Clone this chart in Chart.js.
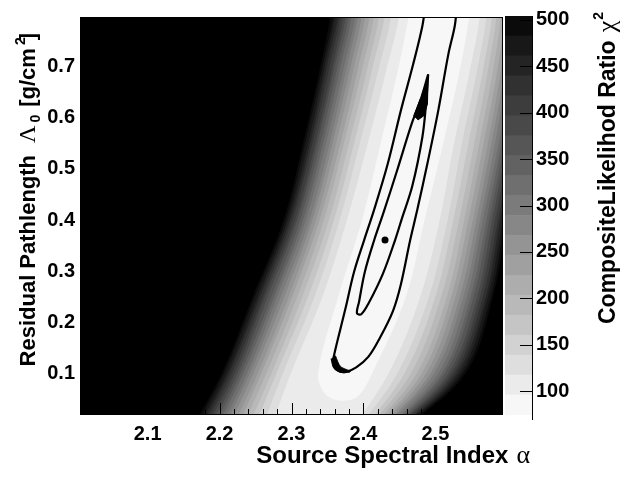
<!DOCTYPE html>
<html>
<head>
<meta charset="utf-8">
<script src="https://cdn.jsdelivr.net/npm/chart.js@4.4.0/dist/chart.umd.min.js"></script>
<style>
  html, body { margin: 0; padding: 0; background: #fff; }
  #wrap { position: relative; width: 639px; height: 477px; }
  #wrap canvas { position: absolute; left: 0; top: 0; }
</style>
</head>
<body>
<div id="wrap">
  <canvas id="plot" width="639" height="477"></canvas>
  <canvas id="palette" width="639" height="477"></canvas>
</div>
<script>
// ==================== Data ====================
// colour scale: lower end and upper edge of each of the 20 chi2 bands
const zMin = 74.5;
const levels = [96.0, 117.5, 138.9, 160.4, 181.9, 203.4, 224.8, 246.3, 267.8, 289.3,
                310.7, 332.2, 353.7, 375.2, 396.6, 418.1, 439.6, 461.1, 482.5, 504.0];
const bandGray = [247, 235, 222, 210, 197, 185, 173, 160, 148, 135,
                  123, 111, 98, 86, 73, 61, 49, 36, 24, 11];

// Lambda0 rows where the band edges were read
const lambdaRows = [-0.02, 0.1, 0.25, 0.4, 0.55, 0.7, 0.82];

// alpha of the left / right edge of levels 2..20 on each row
const leftEdges = [
  [2.268, 2.299, 2.343, 2.377, 2.406, 2.433, 2.451],
  [2.255, 2.288, 2.332, 2.367, 2.395, 2.422, 2.440],
  [2.244, 2.279, 2.323, 2.359, 2.387, 2.413, 2.431],
  [2.235, 2.272, 2.315, 2.352, 2.380, 2.406, 2.423],
  [2.227, 2.265, 2.308, 2.345, 2.373, 2.399, 2.416],
  [2.220, 2.258, 2.301, 2.339, 2.368, 2.393, 2.410],
  [2.213, 2.253, 2.296, 2.334, 2.362, 2.387, 2.404],
  [2.207, 2.247, 2.290, 2.329, 2.357, 2.382, 2.399],
  [2.201, 2.242, 2.285, 2.325, 2.353, 2.377, 2.394],
  [2.196, 2.238, 2.280, 2.320, 2.348, 2.373, 2.390],
  [2.191, 2.233, 2.276, 2.316, 2.344, 2.368, 2.385],
  [2.186, 2.229, 2.272, 2.312, 2.340, 2.364, 2.381],
  [2.181, 2.225, 2.267, 2.308, 2.336, 2.360, 2.377],
  [2.176, 2.221, 2.263, 2.305, 2.333, 2.357, 2.373],
  [2.172, 2.217, 2.260, 2.301, 2.329, 2.353, 2.369],
  [2.168, 2.213, 2.256, 2.298, 2.326, 2.349, 2.366],
  [2.164, 2.210, 2.253, 2.295, 2.323, 2.346, 2.362],
  [2.160, 2.206, 2.249, 2.292, 2.319, 2.343, 2.359],
  [2.156, 2.203, 2.246, 2.289, 2.316, 2.340, 2.355]
];
const rightEdges = [
  [2.378, 2.435, 2.479, 2.506, 2.526, 2.549, 2.563],
  [2.386, 2.447, 2.491, 2.517, 2.537, 2.559, 2.572],
  [2.393, 2.457, 2.500, 2.525, 2.546, 2.567, 2.580],
  [2.398, 2.466, 2.508, 2.533, 2.554, 2.574, 2.586],
  [2.403, 2.474, 2.516, 2.540, 2.561, 2.581, 2.592],
  [2.407, 2.481, 2.522, 2.546, 2.567, 2.587, 2.597],
  [2.411, 2.487, 2.528, 2.552, 2.573, 2.592, 2.602],
  [2.415, 2.493, 2.534, 2.557, 2.578, 2.597, 2.607],
  [2.418, 2.498, 2.539, 2.562, 2.583, 2.601, 2.611],
  [2.422, 2.504, 2.544, 2.566, 2.588, 2.606, 2.615],
  [2.425, 2.509, 2.549, 2.571, 2.592, 2.610, 2.619],
  [2.428, 2.513, 2.553, 2.575, 2.596, 2.614, 2.623],
  [2.431, 2.518, 2.558, 2.579, 2.600, 2.618, 2.626],
  [2.433, 2.522, 2.562, 2.583, 2.604, 2.621, 2.629],
  [2.436, 2.526, 2.566, 2.587, 2.608, 2.625, 2.633],
  [2.439, 2.530, 2.570, 2.590, 2.612, 2.628, 2.636],
  [2.441, 2.534, 2.573, 2.594, 2.615, 2.631, 2.639],
  [2.443, 2.538, 2.577, 2.597, 2.618, 2.634, 2.642],
  [2.446, 2.542, 2.580, 2.600, 2.622, 2.637, 2.644]
];

// lightest band (level 1) closes just above the bottom
const coreAlpha  = [2.466, 2.449, 2.424, 2.398, 2.365, 2.337, 2.347, 2.368, 2.392, 2.412, 2.459, 2.485, 2.511, 2.535, 2.550];
const coreLambda = [0.82, 0.70, 0.55, 0.40, 0.25, 0.10, 0.06, 0.047, 0.055, 0.10, 0.25, 0.40, 0.55, 0.70, 0.82];

// black contour lines
const outerAlpha  = [2.486, 2.482, 2.469, 2.452, 2.434, 2.415, 2.401, 2.387, 2.375, 2.359, 2.358, 2.364, 2.375, 2.390,
                     2.407, 2.423, 2.441, 2.452, 2.465, 2.475, 2.489, 2.504, 2.518, 2.527, 2.530];
const outerLambda = [0.82, 0.780, 0.704, 0.614, 0.511, 0.421, 0.361, 0.299, 0.227, 0.135, 0.121, 0.106, 0.103, 0.112,
                     0.133, 0.170, 0.222, 0.274, 0.361, 0.421, 0.511, 0.614, 0.724, 0.780, 0.82];
const innerAlpha  = [2.490, 2.479, 2.467, 2.447, 2.428, 2.415, 2.402, 2.394, 2.391, 2.397, 2.407, 2.427, 2.444, 2.453,
                     2.468, 2.482, 2.487, 2.490];
const innerLambda = [0.685, 0.633, 0.588, 0.498, 0.415, 0.361, 0.299, 0.241, 0.218, 0.216, 0.237, 0.295, 0.361, 0.401,
                     0.467, 0.563, 0.627, 0.685];
// thick spots of the contour lines
const blobAlpha  = [2.490, 2.489, 2.484, 2.476, 2.470, 2.479];
const blobLambda = [0.685, 0.627, 0.604, 0.596, 0.604, 0.637];
const tipAlpha   = [2.355, 2.359, 2.370, 2.382, 2.368, 2.361];
const tipLambda  = [0.129, 0.110, 0.102, 0.104, 0.114, 0.135];

// best fit point
const bestAlpha = [2.430];
const bestLambda = [0.361];

// axes
const xRange = [2.006, 2.594];
const yRange = [0.019, 0.797];
const xTicks = [2.1, 2.2, 2.3, 2.4, 2.5];
const yTicks = [0.1, 0.2, 0.3, 0.4, 0.5, 0.6, 0.7];
const zTicks = [100, 150, 200, 250, 300, 350, 400, 450, 500];

// ==================== Helpers ====================
const sans = '"Liberation Sans", Arial, Helvetica, sans-serif';
const serif = '"Liberation Serif", "Times New Roman", serif';

function gray(g) {
  return 'rgb(' + g + ',' + g + ',' + g + ')';
}

function toPoints(xs, ys) {
  return xs.map((x, i) => ({ x: x, y: ys[i] }));
}

// closed outline of one level: left edge upwards, right edge downwards.
// above the frame the outline goes straight up before it turns, so the
// smoothing does not bend the visible top of the edges
function levelOutline(k) {
  const above = yRange[1] + 0.3;
  const lft = leftEdges[k];
  const rgt = rightEdges[k];
  const last = lambdaRows.length - 1;
  const left = lambdaRows.map((l, i) => ({ x: lft[i], y: l }));
  const right = lambdaRows.map((l, i) => ({ x: rgt[i], y: l })).reverse();
  return left.concat([{ x: lft[last], y: above }, { x: rgt[last], y: above }], right);
}

// text made of several pieces (greek letters, sub/superscripts), right aligned
function drawRich(ctx, parts, x, y, rot) {
  ctx.save();
  ctx.translate(x, y);
  ctx.rotate(rot);
  let w = 0;
  parts.forEach(p => {
    ctx.font = p.font;
    w += ctx.measureText(p.t).width + (p.gap || 0);
  });
  let cx = -w;
  ctx.fillStyle = '#000';
  ctx.textAlign = 'left';
  ctx.textBaseline = 'alphabetic';
  parts.forEach(p => {
    ctx.font = p.font;
    cx += p.gap || 0;
    ctx.fillText(p.t, cx, p.dy || 0);
    cx += ctx.measureText(p.t).width;
  });
  ctx.restore();
}

// ==================== Main contour chart ====================
const datasets = [
  { data: toPoints(bestAlpha, bestLambda), showLine: false, pointRadius: 3.5,
    pointBackgroundColor: '#000', pointBorderWidth: 0, order: 0 },
  { data: toPoints(blobAlpha, blobLambda), showLine: true, fill: 'shape', backgroundColor: '#000',
    borderColor: '#000', borderWidth: 1, pointRadius: 0, tension: 0, order: 0 },
  { data: toPoints(tipAlpha, tipLambda), showLine: true, fill: 'shape', backgroundColor: '#000',
    borderColor: '#000', borderWidth: 1, pointRadius: 0, tension: 0.3, order: 0 },
  { data: toPoints(innerAlpha, innerLambda), showLine: true, fill: false, borderColor: '#000',
    borderWidth: 2.2, pointRadius: 0, tension: 0.35, order: 0 },
  { data: toPoints(outerAlpha, outerLambda), showLine: true, fill: false, borderColor: '#000',
    borderWidth: 2.2, pointRadius: 0, tension: 0.35, order: 0 },
  { data: toPoints(coreAlpha, coreLambda), showLine: true, fill: 'shape', backgroundColor: gray(bandGray[0]),
    borderWidth: 0, pointRadius: 0, tension: 0.35, order: 1 }
];
leftEdges.forEach((row, k) => {
  datasets.push({
    data: levelOutline(k), showLine: true, fill: 'shape', backgroundColor: gray(bandGray[k + 1]),
    borderWidth: 0, pointRadius: 0, tension: 0.35, order: k + 2
  });
});

const plotDecor = {
  id: 'plotDecor',
  beforeDatasetsDraw(chart) {
    const { ctx, chartArea: a } = chart;
    ctx.save();
    ctx.fillStyle = '#000';
    ctx.fillRect(a.left, a.top, a.right - a.left, a.bottom - a.top);
    ctx.restore();
  },
  afterDatasetsDraw(chart) {
    const { ctx, chartArea: a, scales } = chart;
    ctx.save();
    ctx.strokeStyle = '#000';
    ctx.lineWidth = 1;
    ctx.beginPath();
    // ticks drawn into the frame: major every 0.1, minor every 0.02
    for (let i = 101; i <= 129; i++) {
      const px = Math.round(scales.x.getPixelForValue(i / 50)) + 0.5;
      const len = i % 5 === 0 ? 12 : 6;
      ctx.moveTo(px, a.bottom);
      ctx.lineTo(px, a.bottom - len);
    }
    for (let i = 1; i <= 39; i++) {
      const py = Math.round(scales.y.getPixelForValue(i / 50)) + 0.5;
      const len = i % 5 === 0 ? 12 : 6;
      ctx.moveTo(a.left, py);
      ctx.lineTo(a.left + len, py);
    }
    ctx.stroke();
    ctx.strokeRect(a.left + 0.5, a.top + 0.5, a.right - a.left - 1, a.bottom - a.top - 1);
    ctx.restore();

    drawRich(ctx, [
      { t: 'Source Spectral Index', font: 'bold 24px ' + sans },
      { t: 'α', font: '26px ' + serif, gap: 8 }
    ], 530, 463, 0);

    drawRich(ctx, [
      { t: 'Residual Pathlength', font: 'bold 22px ' + sans },
      { t: 'Λ', font: '24px ' + serif, gap: 12 },
      { t: '0', font: 'bold 14px ' + sans, dy: 5, gap: 3 },
      { t: '[g/cm', font: 'bold 22px ' + sans, gap: 8 },
      { t: '2', font: 'bold 14px ' + sans, dy: -10, gap: 3 },
      { t: ']', font: 'bold 22px ' + sans, gap: -3 }
    ], 35, 33, -Math.PI / 2);
  }
};

new Chart(document.getElementById('plot'), {
  type: 'scatter',
  data: { datasets: datasets },
  options: {
    responsive: false,
    animation: false,
    events: [],
    layout: { padding: { left: 0, right: 136, top: 12, bottom: 0 } },
    elements: { line: { capBezierPoints: false } },
    plugins: { legend: { display: false }, tooltip: { enabled: false } },
    scales: {
      x: {
        type: 'linear', min: xRange[0], max: xRange[1],
        afterBuildTicks: s => { s.ticks = xTicks.map(v => ({ value: v })); },
        afterFit: s => { s.height = 62; },
        grid: { display: false, drawTicks: false },
        border: { display: false },
        ticks: { color: '#000', padding: 7, font: { family: sans, size: 20, weight: 'bold' },
                 maxRotation: 0, callback: v => v.toFixed(1) }
      },
      y: {
        type: 'linear', min: yRange[0], max: yRange[1],
        afterBuildTicks: s => { s.ticks = yTicks.map(v => ({ value: v })); },
        afterFit: s => { s.width = 80; },
        grid: { display: false, drawTicks: false },
        border: { display: false },
        ticks: { color: '#000', padding: 5, font: { family: sans, size: 20, weight: 'bold' },
                 callback: v => v.toFixed(1) }
      }
    }
  },
  plugins: [plotDecor]
});

// ==================== Colour palette ====================
const paletteSets = levels.map((hi, k) => ({
  data: [[k === 0 ? zMin : levels[k - 1], hi]],
  backgroundColor: gray(bandGray[k]),
  borderWidth: 0,
  grouped: false,
  barPercentage: 1,
  categoryPercentage: 1
}));

const paletteDecor = {
  id: 'paletteDecor',
  afterDatasetsDraw(chart) {
    const { ctx, chartArea: a, scales } = chart;
    ctx.save();
    ctx.strokeStyle = '#000';
    ctx.lineWidth = 1;
    ctx.beginPath();
    ctx.moveTo(a.right + 0.5, a.top);
    ctx.lineTo(a.right + 0.5, a.bottom + 5);
    zTicks.forEach(v => {
      const py = Math.round(scales.y.getPixelForValue(v)) + 0.5;
      ctx.moveTo(a.right, py);
      ctx.lineTo(a.right - 12, py);
    });
    ctx.stroke();
    ctx.restore();

    drawRich(ctx, [
      { t: 'CompositeLikelihod Ratio', font: 'bold 23px ' + sans },
      { t: 'χ', font: '26px ' + serif, gap: 8 },
      { t: '2', font: 'bold 14px ' + sans, dy: -12, gap: 1 }
    ], 615, 12, -Math.PI / 2);
  }
};

new Chart(document.getElementById('palette'), {
  type: 'bar',
  data: { labels: [''], datasets: paletteSets },
  options: {
    responsive: false,
    animation: false,
    events: [],
    layout: { padding: { left: 505, right: 0, top: 12, bottom: 62 } },
    plugins: { legend: { display: false }, tooltip: { enabled: false } },
    scales: {
      x: { display: false },
      y: {
        position: 'right', min: zMin, max: levels[levels.length - 1],
        afterBuildTicks: s => { s.ticks = zTicks.map(v => ({ value: v })); },
        afterFit: s => { s.width = 107; },
        grid: { display: false, drawTicks: false },
        border: { display: false },
        ticks: { color: '#000', padding: 4, font: { family: sans, size: 20, weight: 'bold' } }
      }
    }
  },
  plugins: [paletteDecor]
});
</script>
</body>
</html>
